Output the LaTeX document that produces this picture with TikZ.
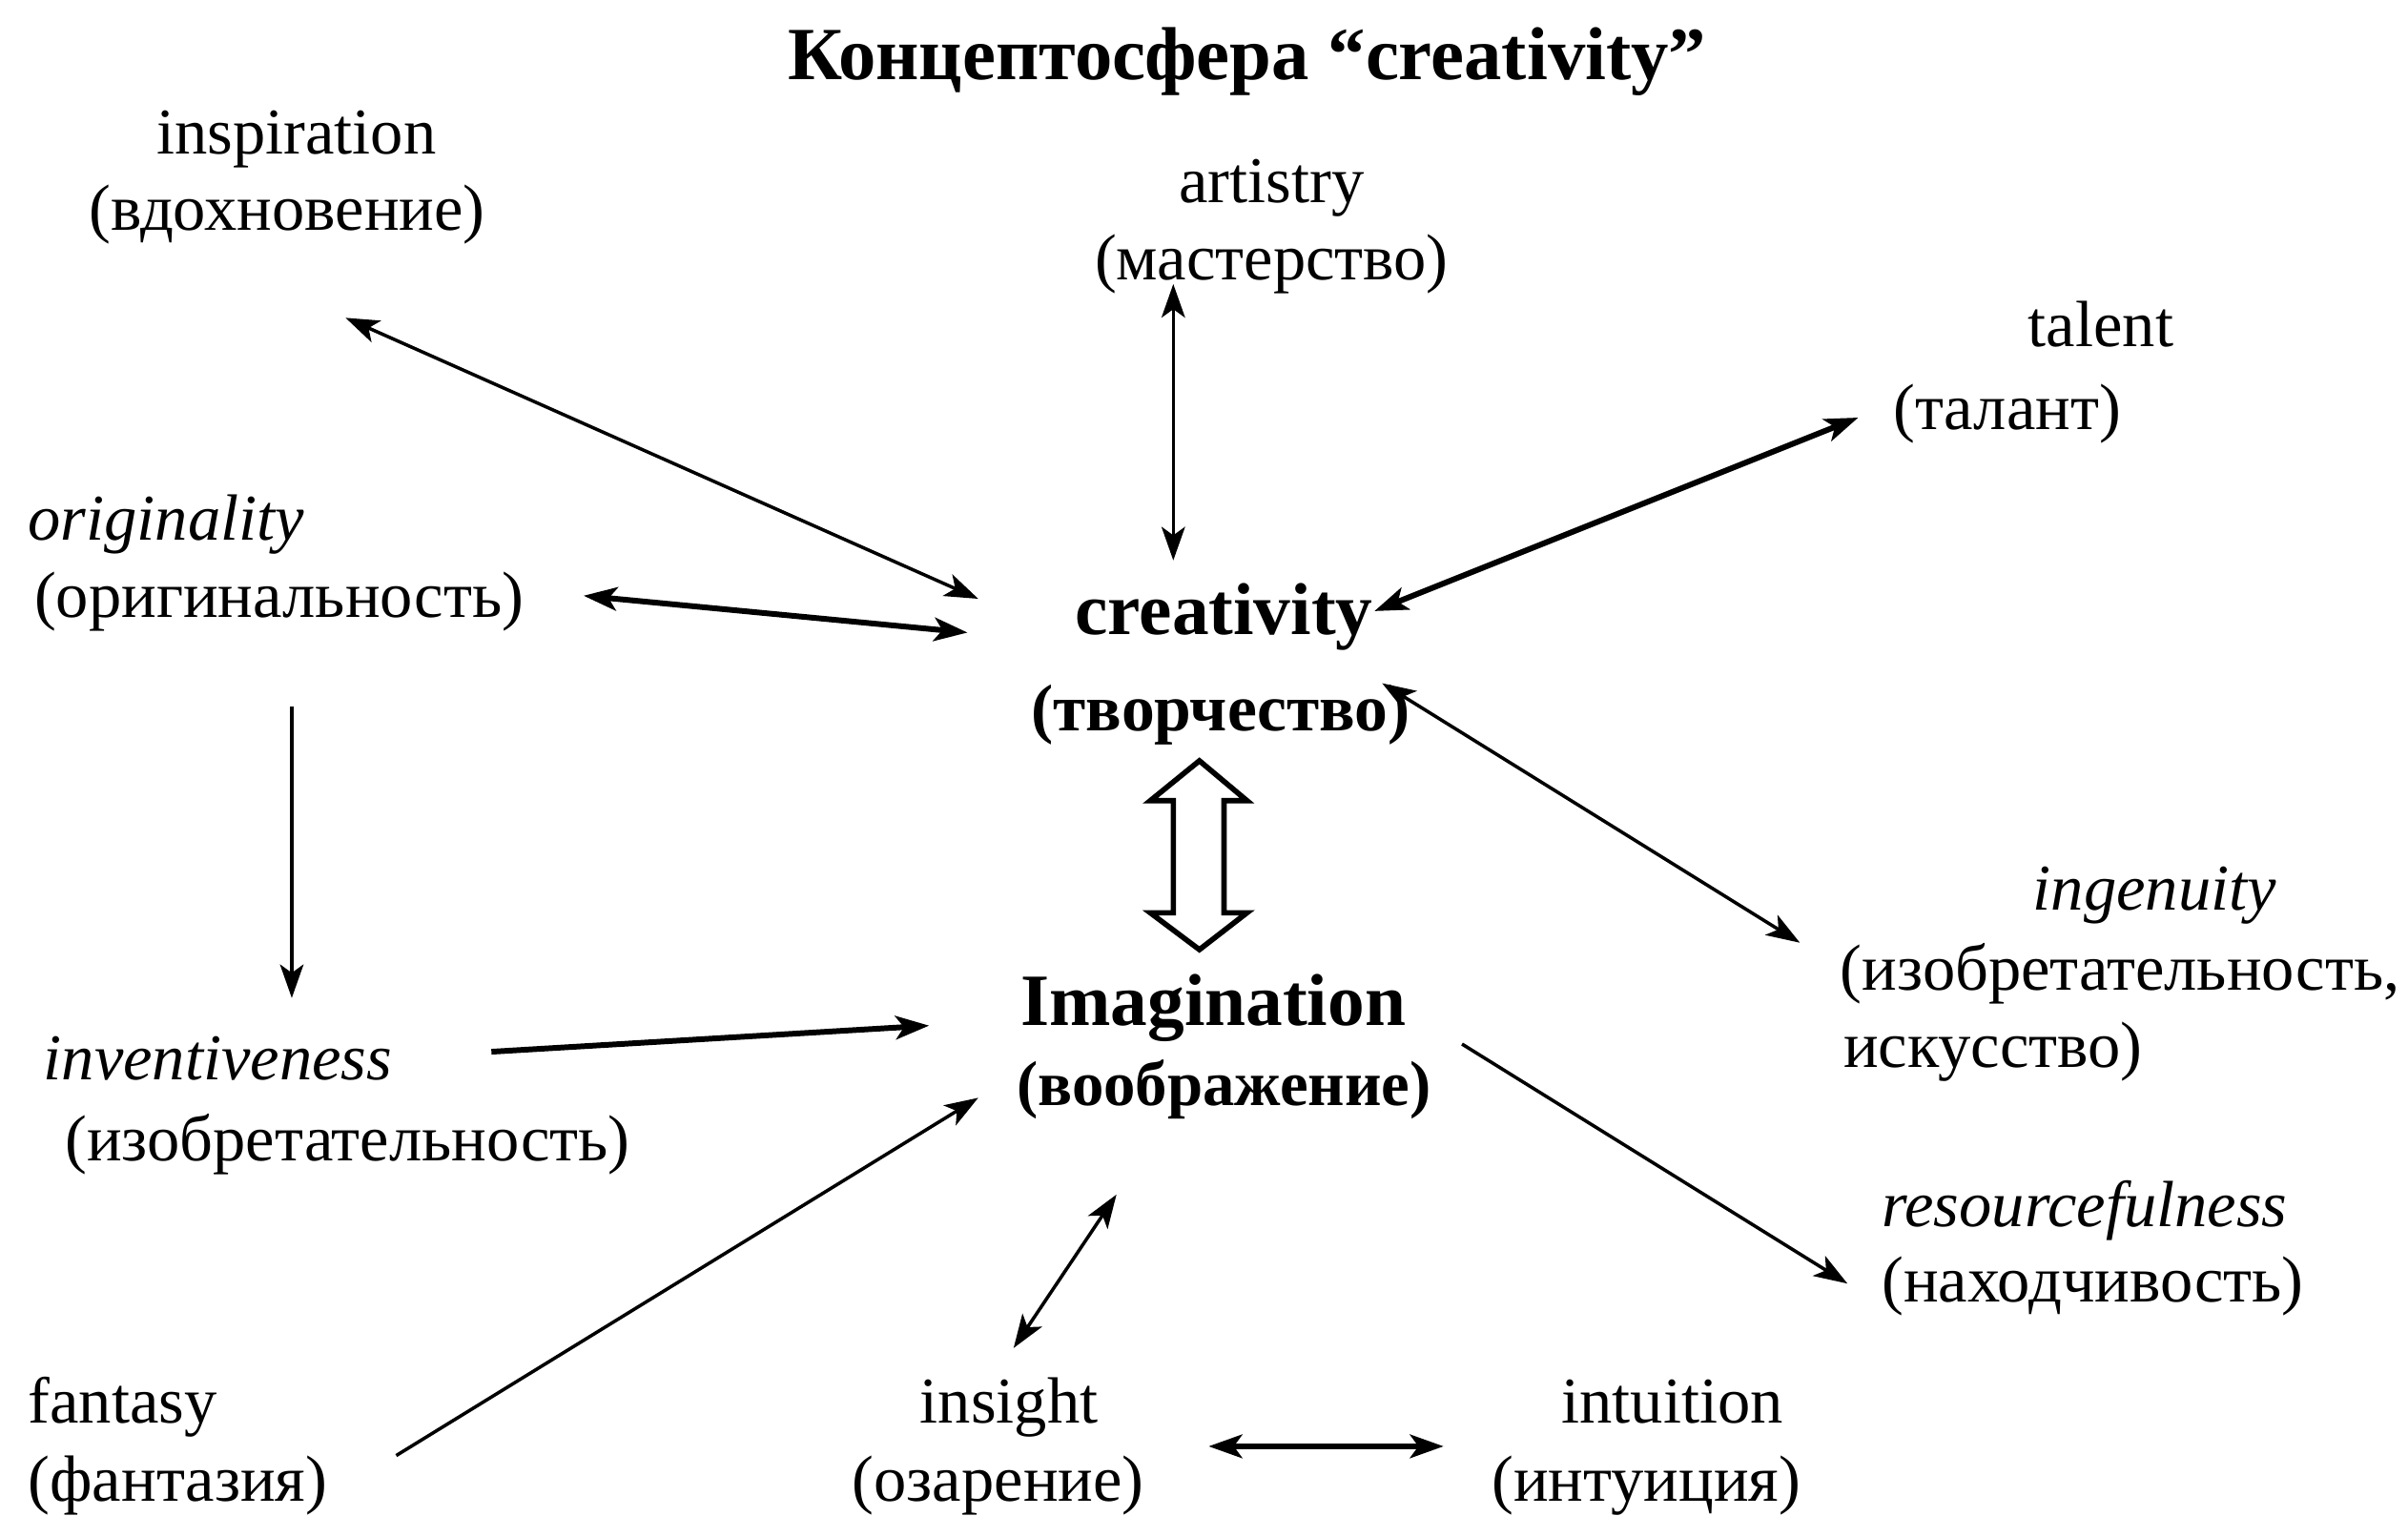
\documentclass[tikz,border=0pt]{standalone}
\usepackage{fontspec}
\setmainfont{Liberation Serif}
\usetikzlibrary{arrows.meta}
\begin{document}
\begin{tikzpicture}[x=0.16103mm,y=-0.16103mm,
  lbl/.style={inner sep=0pt,anchor=base,font=\fontsize{19.5}{22}\selectfont},
  lblw/.style={lbl,anchor=base west},
  it/.style={font=\fontsize{19.5}{22}\selectfont\itshape},
  bold/.style={inner sep=0pt,anchor=base,font=\fontsize{22}{26}\selectfont\bfseries},
  boldc/.style={bold,font=\fontsize{19.8}{24}\selectfont\bfseries},
  thin/.style={line width=1pt},
  thick2/.style={line width=1.7pt},
  tip/.tip={Stealth[length=10pt,width=7pt,inset=2.5pt]},
  one/.style={-tip},
  two/.style={tip-tip}]
\useasboundingbox (0,0) rectangle (1568,987);
% title
\node[bold,font=\fontsize{22.4}{26}\selectfont\bfseries] (title) at (812,52) {Концептосфера “creativity”};
% labels
\node[lbl] (inspA) at (193,100) {inspiration};
\node[lbl] (inspB) at (187,150) {(вдохновение)};
\node[lbl] (artA) at (828,132) {artistry};
\node[lbl] (artB) at (828,182) {(мастерство)};
\node[lbl] (talA) at (1368,226) {talent};
\node[lbl] (talB) at (1307,280) {(талант)};
\node[lblw,it] (origA) at (18,352) {originality};
\node[lblw] (origB) at (22,402) {(оригинальность)};
\node[bold] (creaA) at (797,413) {creativity};
\node[boldc] (creaB) at (795,476) {(творчество)};
\node[lbl,it] (ingA) at (1403,593) {ingenuity};
\node[lblw] (ingB) at (1198,645) {(изобретательность,};
\node[lblw] (ingC) at (1200,695) {искусство)};
\node[lblw,it] (invA) at (28,703) {inventiveness};
\node[lblw] (invB) at (42,756) {(изобретательность)};
\node[bold] (imgA) at (790,668) {Imagination};
\node[boldc,font=\fontsize{19}{23}\selectfont\bfseries] (imgB) at (797,720) {(воображение)};
\node[lblw,it] (resA) at (1225,799) {resourcefulness};
\node[lblw] (resB) at (1225,848) {(находчивость)};
\node[lblw] (fanA) at (18,927) {fantasy};
\node[lblw] (fanB) at (18,978) {(фантазия)};
\node[lbl] (insA) at (657,927) {insight};
\node[lbl] (insB) at (650,978) {(озарение)};
\node[lbl] (intA) at (1089,927) {intuition};
\node[lbl] (intB) at (1072,978) {(интуиция)};
% connectors
\draw[thin,two] ([shift={(38,57)}]inspB.base) -- ([shift={(-160,-23)}]creaA.base);
\draw[thin,two] ([shift={(-64,3)}]artB.base) -- ([shift={(-33,-48)}]creaA.base);
\draw[thick2,two] ([shift={(-97,-8)}]talB.base) -- ([shift={(98,-15)}]creaA.base);
\draw[thick2,two] ([shift={(358,-14)}]origB.base west) -- ([shift={(-167,-1)}]creaA.base);
\draw[thin,one] ([shift={(168,58)}]origB.base west) -- ([shift={(162,-53)}]invA.base west);
\draw[thin,two] ([shift={(105,-31)}]creaB.base) -- ([shift={(-26,-31)}]ingB.base west);
\draw[thick2,one] ([shift={(292,-18)}]invA.base west) -- ([shift={(-185,0)}]imgA.base);
\draw[thin,one] ([shift={(240,21)}]fanA.base west) -- ([shift={(-160,-5)}]imgB.base);
\draw[thin,two] ([shift={(-70,58)}]imgB.base) -- ([shift={(3,-49)}]insA.base);
\draw[thin,one] ([shift={(162,12)}]imgA.base) -- ([shift={(-22,-12)}]resB.base west);
\draw[thick2,two] ([shift={(130,15)}]insA.base) -- ([shift={(-149,15)}]intA.base);
% hollow double block arrow between creativity and imagination
\coordinate (bc) at (781,557.5);
\draw[line width=1.6pt,line join=miter,fill=white]
  ([shift={(0,-62)}]bc) -- ++(31,26) -- ++(-15,0) -- ++(0,73) -- ++(15,0)
  -- ++(-31,24) -- ++(-32,-24) -- ++(15,0) -- ++(0,-73) -- ++(-15,0) -- cycle;
\end{tikzpicture}
\end{document}
